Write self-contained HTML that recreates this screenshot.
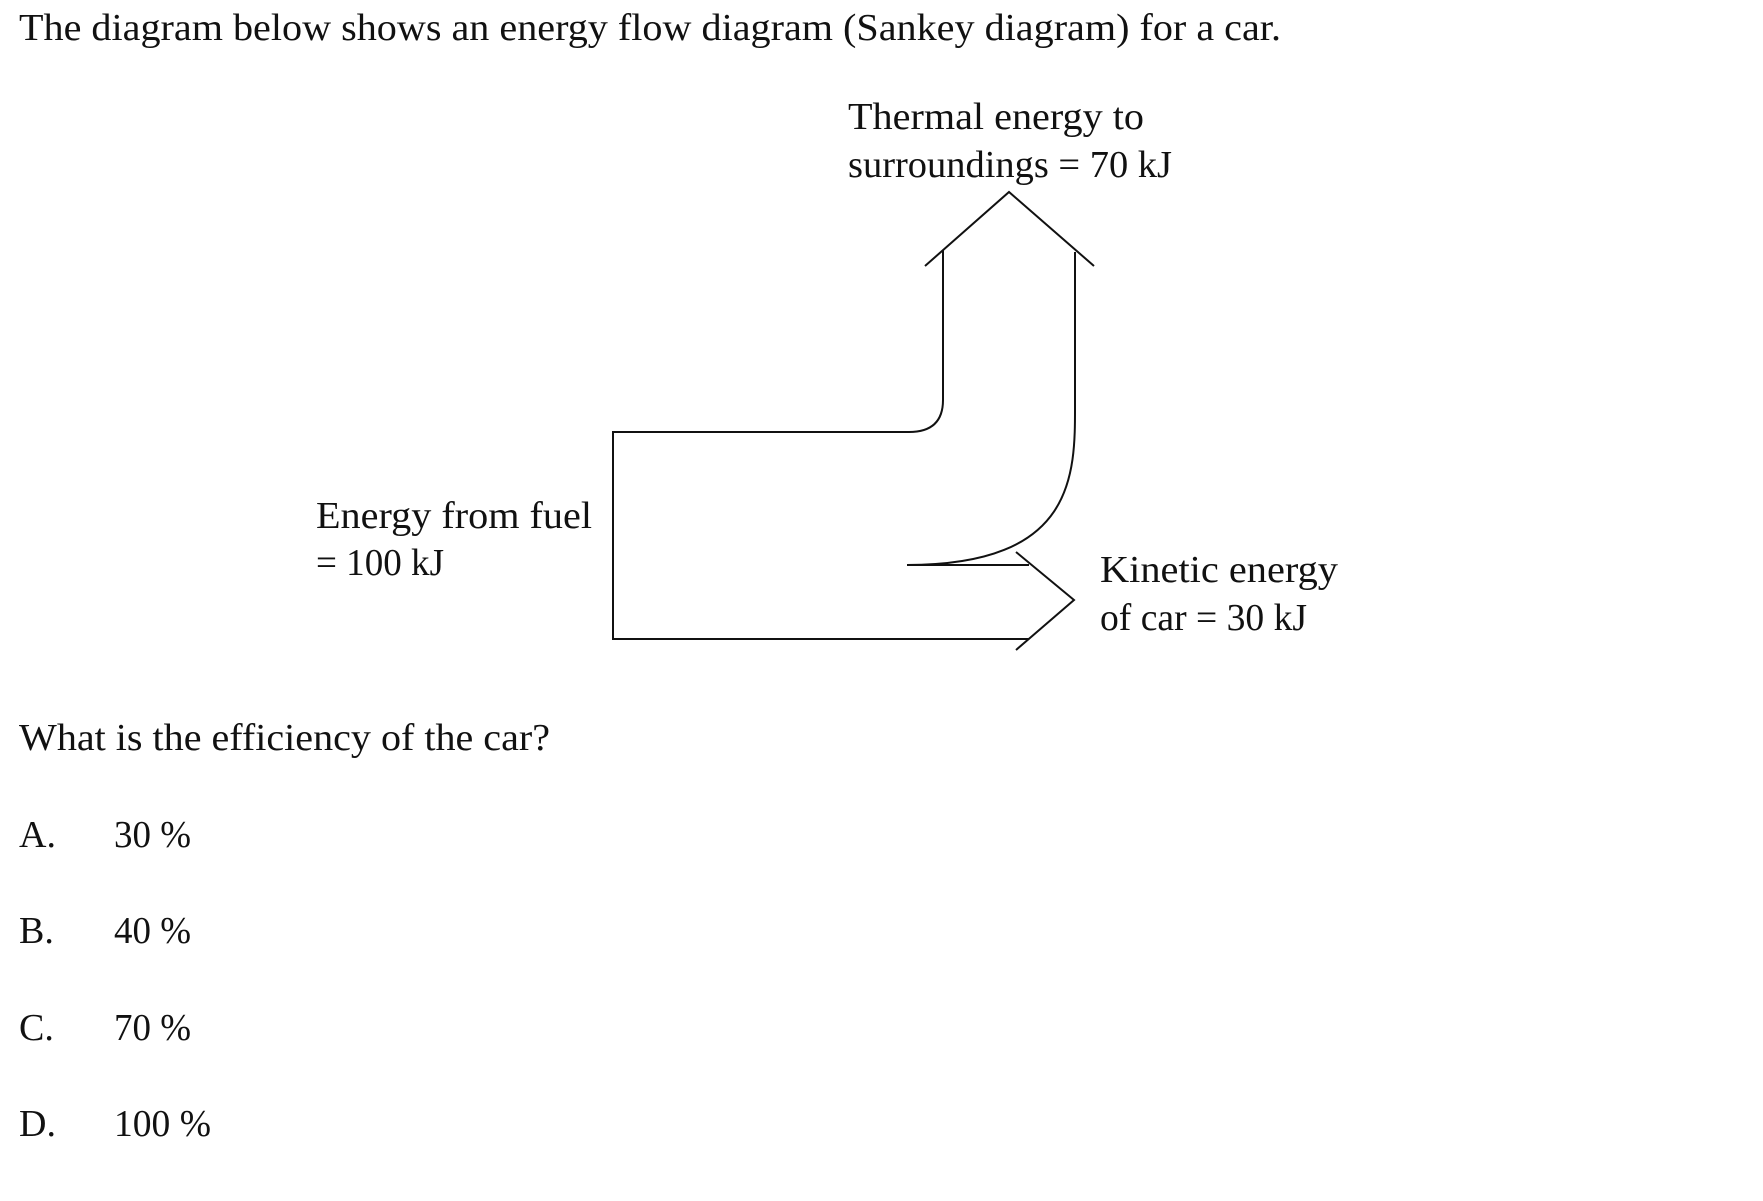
<!DOCTYPE html>
<html><head><meta charset="utf-8"><style>
html,body{margin:0;padding:0;background:#fff;width:1763px;height:1201px;overflow:hidden}
svg text{font-family:"Liberation Serif",serif;font-size:38px;fill:#111}
</style></head><body>
<svg width="1763" height="1201" viewBox="0 0 1763 1201" xmlns="http://www.w3.org/2000/svg">
<text x="19" y="40" textLength="1262" lengthAdjust="spacingAndGlyphs">The diagram below shows an energy flow diagram (Sankey diagram) for a car.</text>
<text x="848" y="129" textLength="296" lengthAdjust="spacingAndGlyphs">Thermal energy to</text>
<text x="848" y="177" textLength="324" lengthAdjust="spacingAndGlyphs">surroundings = 70 kJ</text>
<text x="316" y="528" textLength="276" lengthAdjust="spacingAndGlyphs">Energy from fuel</text>
<text x="316" y="575" textLength="128" lengthAdjust="spacingAndGlyphs">= 100 kJ</text>
<text x="1100" y="582" textLength="238" lengthAdjust="spacingAndGlyphs">Kinetic energy</text>
<text x="1100" y="630" textLength="207" lengthAdjust="spacingAndGlyphs">of car = 30 kJ</text>
<text x="19" y="750" textLength="531" lengthAdjust="spacingAndGlyphs">What is the efficiency of the car?</text>
<text x="19" y="847">A.</text><text x="114" y="847" textLength="77" lengthAdjust="spacingAndGlyphs">30 %</text>
<text x="19" y="943">B.</text><text x="114" y="943" textLength="77" lengthAdjust="spacingAndGlyphs">40 %</text>
<text x="19" y="1040">C.</text><text x="114" y="1040" textLength="77" lengthAdjust="spacingAndGlyphs">70 %</text>
<text x="19" y="1136">D.</text><text x="114" y="1136" textLength="97" lengthAdjust="spacingAndGlyphs">100 %</text>
<g fill="none" stroke="#111" stroke-width="2">
<polyline points="925,266 1009,192 1094,266"/>
<path d="M943,250 L943,400 Q943,432 909,432 L613,432 L613,639 L1029,639"/>
<path d="M1075,252 L1075,399 C1075,470 1080,565 907,565"/>
<line x1="907" y1="565" x2="1029" y2="565"/>
<polyline points="1016,552 1074,600 1016,650"/>
</g>
</svg>
</body></html>
